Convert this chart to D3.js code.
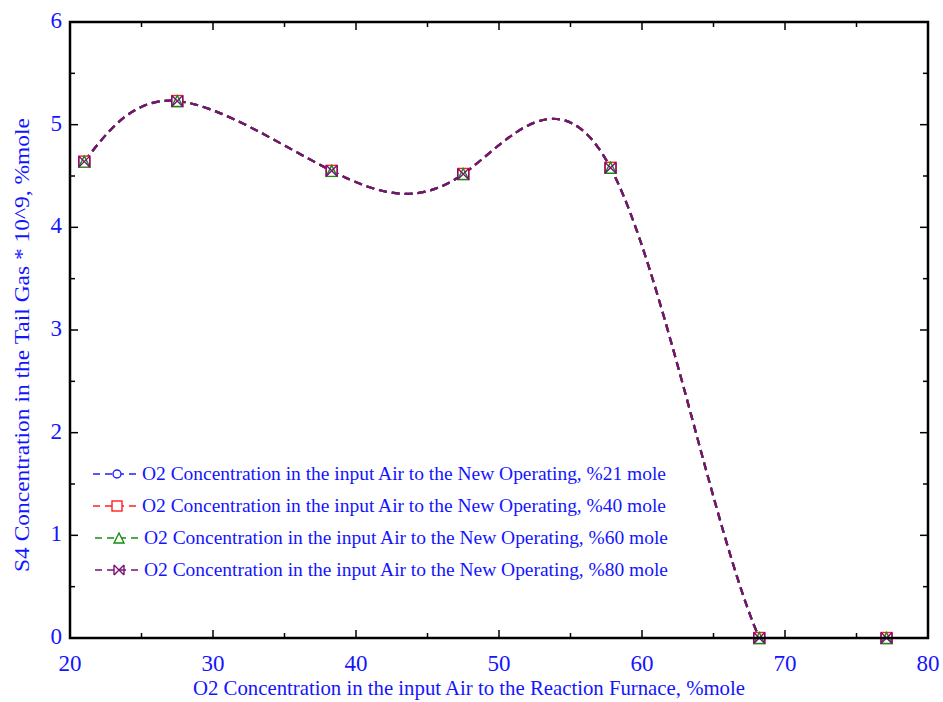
<!DOCTYPE html>
<html>
<head>
<meta charset="utf-8">
<script src="https://cdn.jsdelivr.net/npm/d3@7"></script>
<style>
  body { margin: 0; background: #fff; }
  text { font-family: "Liberation Serif", "Times New Roman", serif; fill: #1414ff; }
</style>
</head>
<body>
<div id="chart"></div>
<script>
// O2 concentration in air to reaction furnace (%mole)
const xValues = [21, 27.5, 38.3, 47.5, 57.8, 68.2, 77.1];
// S4 in tail gas * 10^9 -- all four cases overlap
const s21 = [4.64, 5.23, 4.55, 4.52, 4.58, 0, 0];
const s40 = [4.64, 5.23, 4.55, 4.52, 4.58, 0, 0];
const s60 = [4.64, 5.23, 4.55, 4.52, 4.58, 0, 0];
const s80 = [4.64, 5.23, 4.55, 4.52, 4.58, 0, 0];
const seriesNames = ["%21 mole", "%40 mole", "%60 mole", "%80 mole"];
const xTicks = [20, 30, 40, 50, 60, 70, 80];
const yTicks = [0, 1, 2, 3, 4, 5, 6];

const width = 943, height = 702;
const margin = { left: 70, right: 15, top: 22, bottom: 64 };

const svg = d3.select("#chart").append("svg").attr("width", width).attr("height", height);

const x = d3.scaleLinear().domain([20, 80]).range([margin.left, width - margin.right]);
const y = d3.scaleLinear().domain([0, 6]).range([height - margin.bottom, margin.top]);

svg.append("clipPath").attr("id", "plotclip").append("rect")
  .attr("x", x(20)).attr("y", y(6)).attr("width", x(80) - x(20)).attr("height", y(0) - y(6));

const series = [
  { name: seriesNames[0], values: s21, color: "#2020ff", marker: "circle" },
  { name: seriesNames[1], values: s40, color: "#ff2020", marker: "square" },
  { name: seriesNames[2], values: s60, color: "#109010", marker: "triangle" },
  { name: seriesNames[3], values: s80, color: "#7a0f78", marker: "boxx" }
];

const line = d3.line().x(d => x(d[0])).y(d => y(d[1])).curve(d3.curveNatural);

const plot = svg.append("g").attr("clip-path", "url(#plotclip)");
series.forEach(s => {
  plot.append("path").datum(xValues.map((v, i) => [v, s.values[i]]))
    .attr("d", line).attr("fill", "none").attr("stroke", s.color)
    .attr("stroke-width", 2.2).attr("stroke-dasharray", "8,5");
});

function drawMarker(g, type, color, cx, cy, r) {
  if (type === "circle") {
    g.append("circle").attr("cx", cx).attr("cy", cy).attr("r", r * 0.8)
      .attr("fill", "#fff").attr("stroke", color).attr("stroke-width", 1.4);
  } else if (type === "square") {
    g.append("rect").attr("x", cx - r).attr("y", cy - r).attr("width", 2 * r).attr("height", 2 * r)
      .attr("fill", "#fff").attr("stroke", color).attr("stroke-width", 1.4);
  } else if (type === "triangle") {
    g.append("path").attr("d", `M${cx},${cy - r}L${cx + r},${cy + r}L${cx - r},${cy + r}Z`)
      .attr("fill", "#fff").attr("stroke", color).attr("stroke-width", 1.4);
  } else {
    g.append("path")
      .attr("d", `M${cx - r},${cy - r}L${cx + r},${cy + r}M${cx + r},${cy - r}L${cx - r},${cy + r}M${cx - r},${cy - r}L${cx - r},${cy + r}M${cx + r},${cy - r}L${cx + r},${cy + r}`)
      .attr("fill", "none").attr("stroke", color).attr("stroke-width", 1.4);
  }
}

const markers = svg.append("g");
series.forEach(s => {
  xValues.forEach((v, i) => drawMarker(markers, s.marker, s.color, x(v), y(s.values[i]), 5.5));
});

// frame with inward ticks
const axisG = svg.append("g");
const xMinor = d3.range(25, 80, 10);
const yMinor = d3.range(0.5, 6, 1);
axisG.append("rect").attr("x", x(20)).attr("y", y(6)).attr("width", x(80) - x(20)).attr("height", y(0) - y(6))
  .attr("fill", "none").attr("stroke", "#000").attr("stroke-width", 2.5);

function tickLines(vals, len, horiz) {
  vals.forEach(v => {
    if (horiz) {
      axisG.append("line").attr("x1", x(v)).attr("x2", x(v)).attr("y1", y(0)).attr("y2", y(0) - len).attr("stroke", "#000").attr("stroke-width", 1.5);
      axisG.append("line").attr("x1", x(v)).attr("x2", x(v)).attr("y1", y(6)).attr("y2", y(6) + len).attr("stroke", "#000").attr("stroke-width", 1.5);
    } else {
      axisG.append("line").attr("y1", y(v)).attr("y2", y(v)).attr("x1", x(20)).attr("x2", x(20) + len).attr("stroke", "#000").attr("stroke-width", 1.5);
      axisG.append("line").attr("y1", y(v)).attr("y2", y(v)).attr("x1", x(80)).attr("x2", x(80) - len).attr("stroke", "#000").attr("stroke-width", 1.5);
    }
  });
}
tickLines(xTicks, 8, true);
tickLines(xMinor, 5, true);
tickLines(yTicks, 8, false);
tickLines(yMinor, 5, false);

svg.append("g").selectAll("text").data(xTicks).enter().append("text")
  .attr("x", d => x(d)).attr("y", 671).attr("text-anchor", "middle")
  .attr("font-size", 23).text(d => d);

svg.append("g").selectAll("text").data(yTicks).enter().append("text")
  .attr("x", 62).attr("y", d => y(d) + 6).attr("text-anchor", "end")
  .attr("font-size", 23).text(d => d);

svg.append("text").attr("x", 469).attr("y", 695).attr("text-anchor", "middle")
  .attr("font-size", 21).attr("textLength", 552).attr("lengthAdjust", "spacingAndGlyphs")
  .text("O2 Concentration in the input Air to the Reaction Furnace, %mole");

svg.append("text").attr("transform", "translate(29,345) rotate(-90)").attr("text-anchor", "middle")
  .attr("font-size", 22).attr("textLength", 454).attr("lengthAdjust", "spacingAndGlyphs")
  .text("S4 Concentration in the Tail Gas * 10^9, %mole");

// legend
const legend = svg.append("g");
series.forEach((s, i) => {
  const ly = 474 + i * 32;
  const lx = i < 2 ? 93 : 95;
  legend.append("line").attr("x1", lx).attr("x2", lx + 45).attr("y1", ly).attr("y2", ly)
    .attr("stroke", s.color).attr("stroke-width", 1.5).attr("stroke-dasharray", "7,5");
  drawMarker(legend, s.marker, s.color, lx + 24, ly, 5);
  legend.append("text").attr("x", lx + 49).attr("y", ly + 6).attr("font-size", 18)
    .attr("textLength", 524).attr("lengthAdjust", "spacingAndGlyphs")
    .text("O2 Concentration in the input Air to the New Operating, " + s.name);
});
</script>
</body>
</html>
